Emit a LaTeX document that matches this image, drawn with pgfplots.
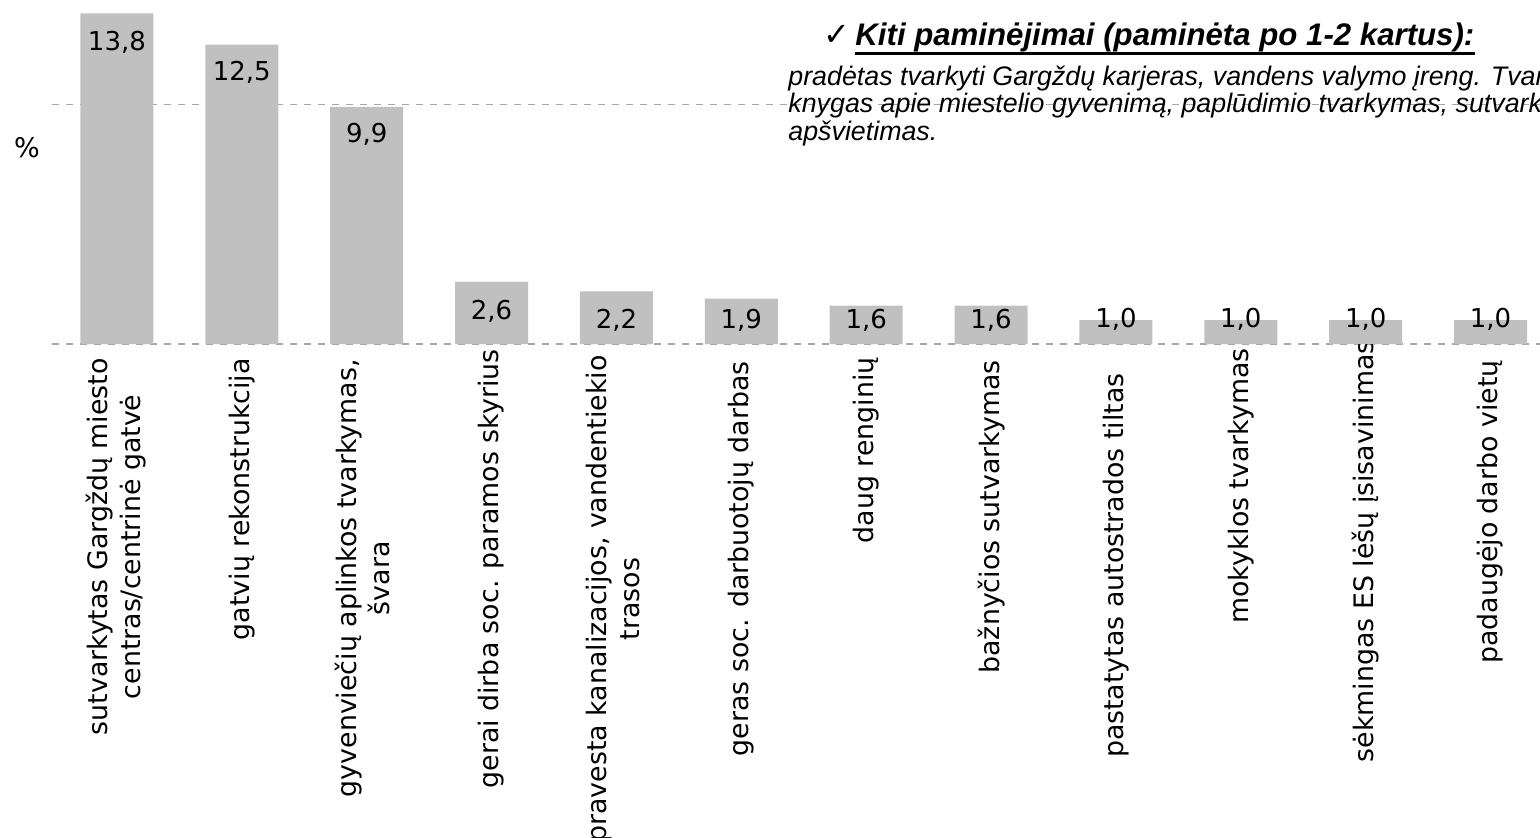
\documentclass[border=0pt]{standalone}
\usepackage{fontspec}
\setmainfont{DejaVu Sans}
\newfontfamily\lib{Liberation Sans}
\usepackage{pgfplots}
\pgfplotsset{compat=1.18}
\definecolor{bargray}{HTML}{C0C0C0}
\definecolor{gridgray}{HTML}{A6A6A6}
\newcommand{\pad}[1]{\rule{#1}{0pt}}
\begin{document}
\begin{tikzpicture}
\begin{axis}[
  at={(26pt,246.5pt)}, anchor=south west,
  scale only axis, width=750.5pt, height=167.65pt,
  xmin=-0.52, xmax=11.5, ymin=0, ymax=14,
  axis lines*=left, axis line style={draw=none},
  major tick length=0pt,
  ytick={0,10}, yticklabels={},
  ymajorgrids,
  grid style={gridgray, line width=0.6pt, dash pattern=on 3.5pt off 3.5pt},
  xtick={0,1,2,3,4,5,6,7,8,9,10,11},
  xticklabels={
    {\begin{tabular}{@{}c@{}}sutvarkytas Gargždų miesto\\centras/centrinė gatvė\end{tabular}\pad{10pt}},
    {gatvių rekonstrukcija\pad{10pt}},
    {\begin{tabular}{@{}c@{}}gyvenviečių aplinkos tvarkymas,\\švara\end{tabular}\pad{10.5pt}},
    {gerai dirba soc. paramos skyrius\pad{5.5pt}},
    {\begin{tabular}{@{}c@{}}pravesta kanalizacijos, vandentiekio\\trasos\end{tabular}\pad{8.5pt}},
    {geras soc. darbuotojų darbas\pad{11.5pt}},
    {daug renginių\pad{9.5pt}},
    {bažnyčios sutvarkymas\pad{11pt}},
    {pastatytas autostrados tiltas\pad{17.5pt}},
    {mokyklos tvarkymas\pad{5pt}},
    {sėkmingas ES lėšų įsisavinimas\pad{1pt}},
    {padaugėjo darbo vietų\pad{11pt}}
  },
  xticklabel style={rotate=90, anchor=east, inner sep=0pt, font=\fontsize{13.4}{16.5}\selectfont},
  xticklabel shift=-3pt,
  clip=false,
]
\addplot[ybar, bar width=0.5845, bar shift=0pt, fill=bargray, draw=none]
  coordinates {(0,13.8) (1,12.5) (2,9.9) (3,2.6) (4,2.2) (5,1.9) (6,1.6) (7,1.6) (8,1.0) (9,1.0) (10,1.0) (11,1.0)};
\addplot[draw=none, nodes near coords, point meta=explicit symbolic,
  every node near coord/.style={anchor=base, inner sep=0pt, text=black, font=\fontsize{13}{15.5}\selectfont}]
  coordinates {(0,12.25) [13,8] (1,11.0) [12,5] (2,8.43) [9,9] (3,1.04) [2,6] (4,0.63) [2,2] (5,0.63) [1,9] (6,0.63) [1,6] (7,0.63) [1,6] (8,0.71) [1,0] (9,0.71) [1,0] (10,0.71) [1,0] (11,0.71) [1,0]};
\end{axis}
\node[font=\fontsize{13.5}{16}\selectfont, inner sep=0pt] at (13.5pt,344.5pt) {\%};
\node[anchor=base west, inner sep=0pt, font=\fontsize{16}{19}\selectfont] at (411.5pt,395.5pt) {✓};
\node[anchor=base west, inner sep=0pt, font=\lib\bfseries\itshape\fontsize{15.6}{18}\selectfont] (h) at (427.5pt,395.5pt) {Kiti paminėjimai (paminėta po 1-2 kartus):};
\draw[line width=1.5pt] ([yshift=-3.8pt]h.base west) -- ([yshift=-3.8pt]h.base east);
\node[anchor=base west, inner sep=0pt, font=\lib\itshape\fontsize{13.4}{16}\selectfont] at (394pt,375.5pt) {pradėtas tvarkyti Gargždų karjeras, vandens valymo įreng. Tvarkoma};
\node[anchor=base west, inner sep=0pt, font=\lib\itshape\fontsize{13.4}{16}\selectfont] at (394pt,362.25pt) {knygas apie miestelio gyvenimą, paplūdimio tvarkymas, sutvarkytas};
\node[anchor=base west, inner sep=0pt, font=\lib\itshape\fontsize{13.4}{16}\selectfont] at (394pt,348.2pt) {apšvietimas.};
\pgfresetboundingbox
\useasboundingbox (0,0) rectangle (770pt,418.5pt);
\end{tikzpicture}
\end{document}
